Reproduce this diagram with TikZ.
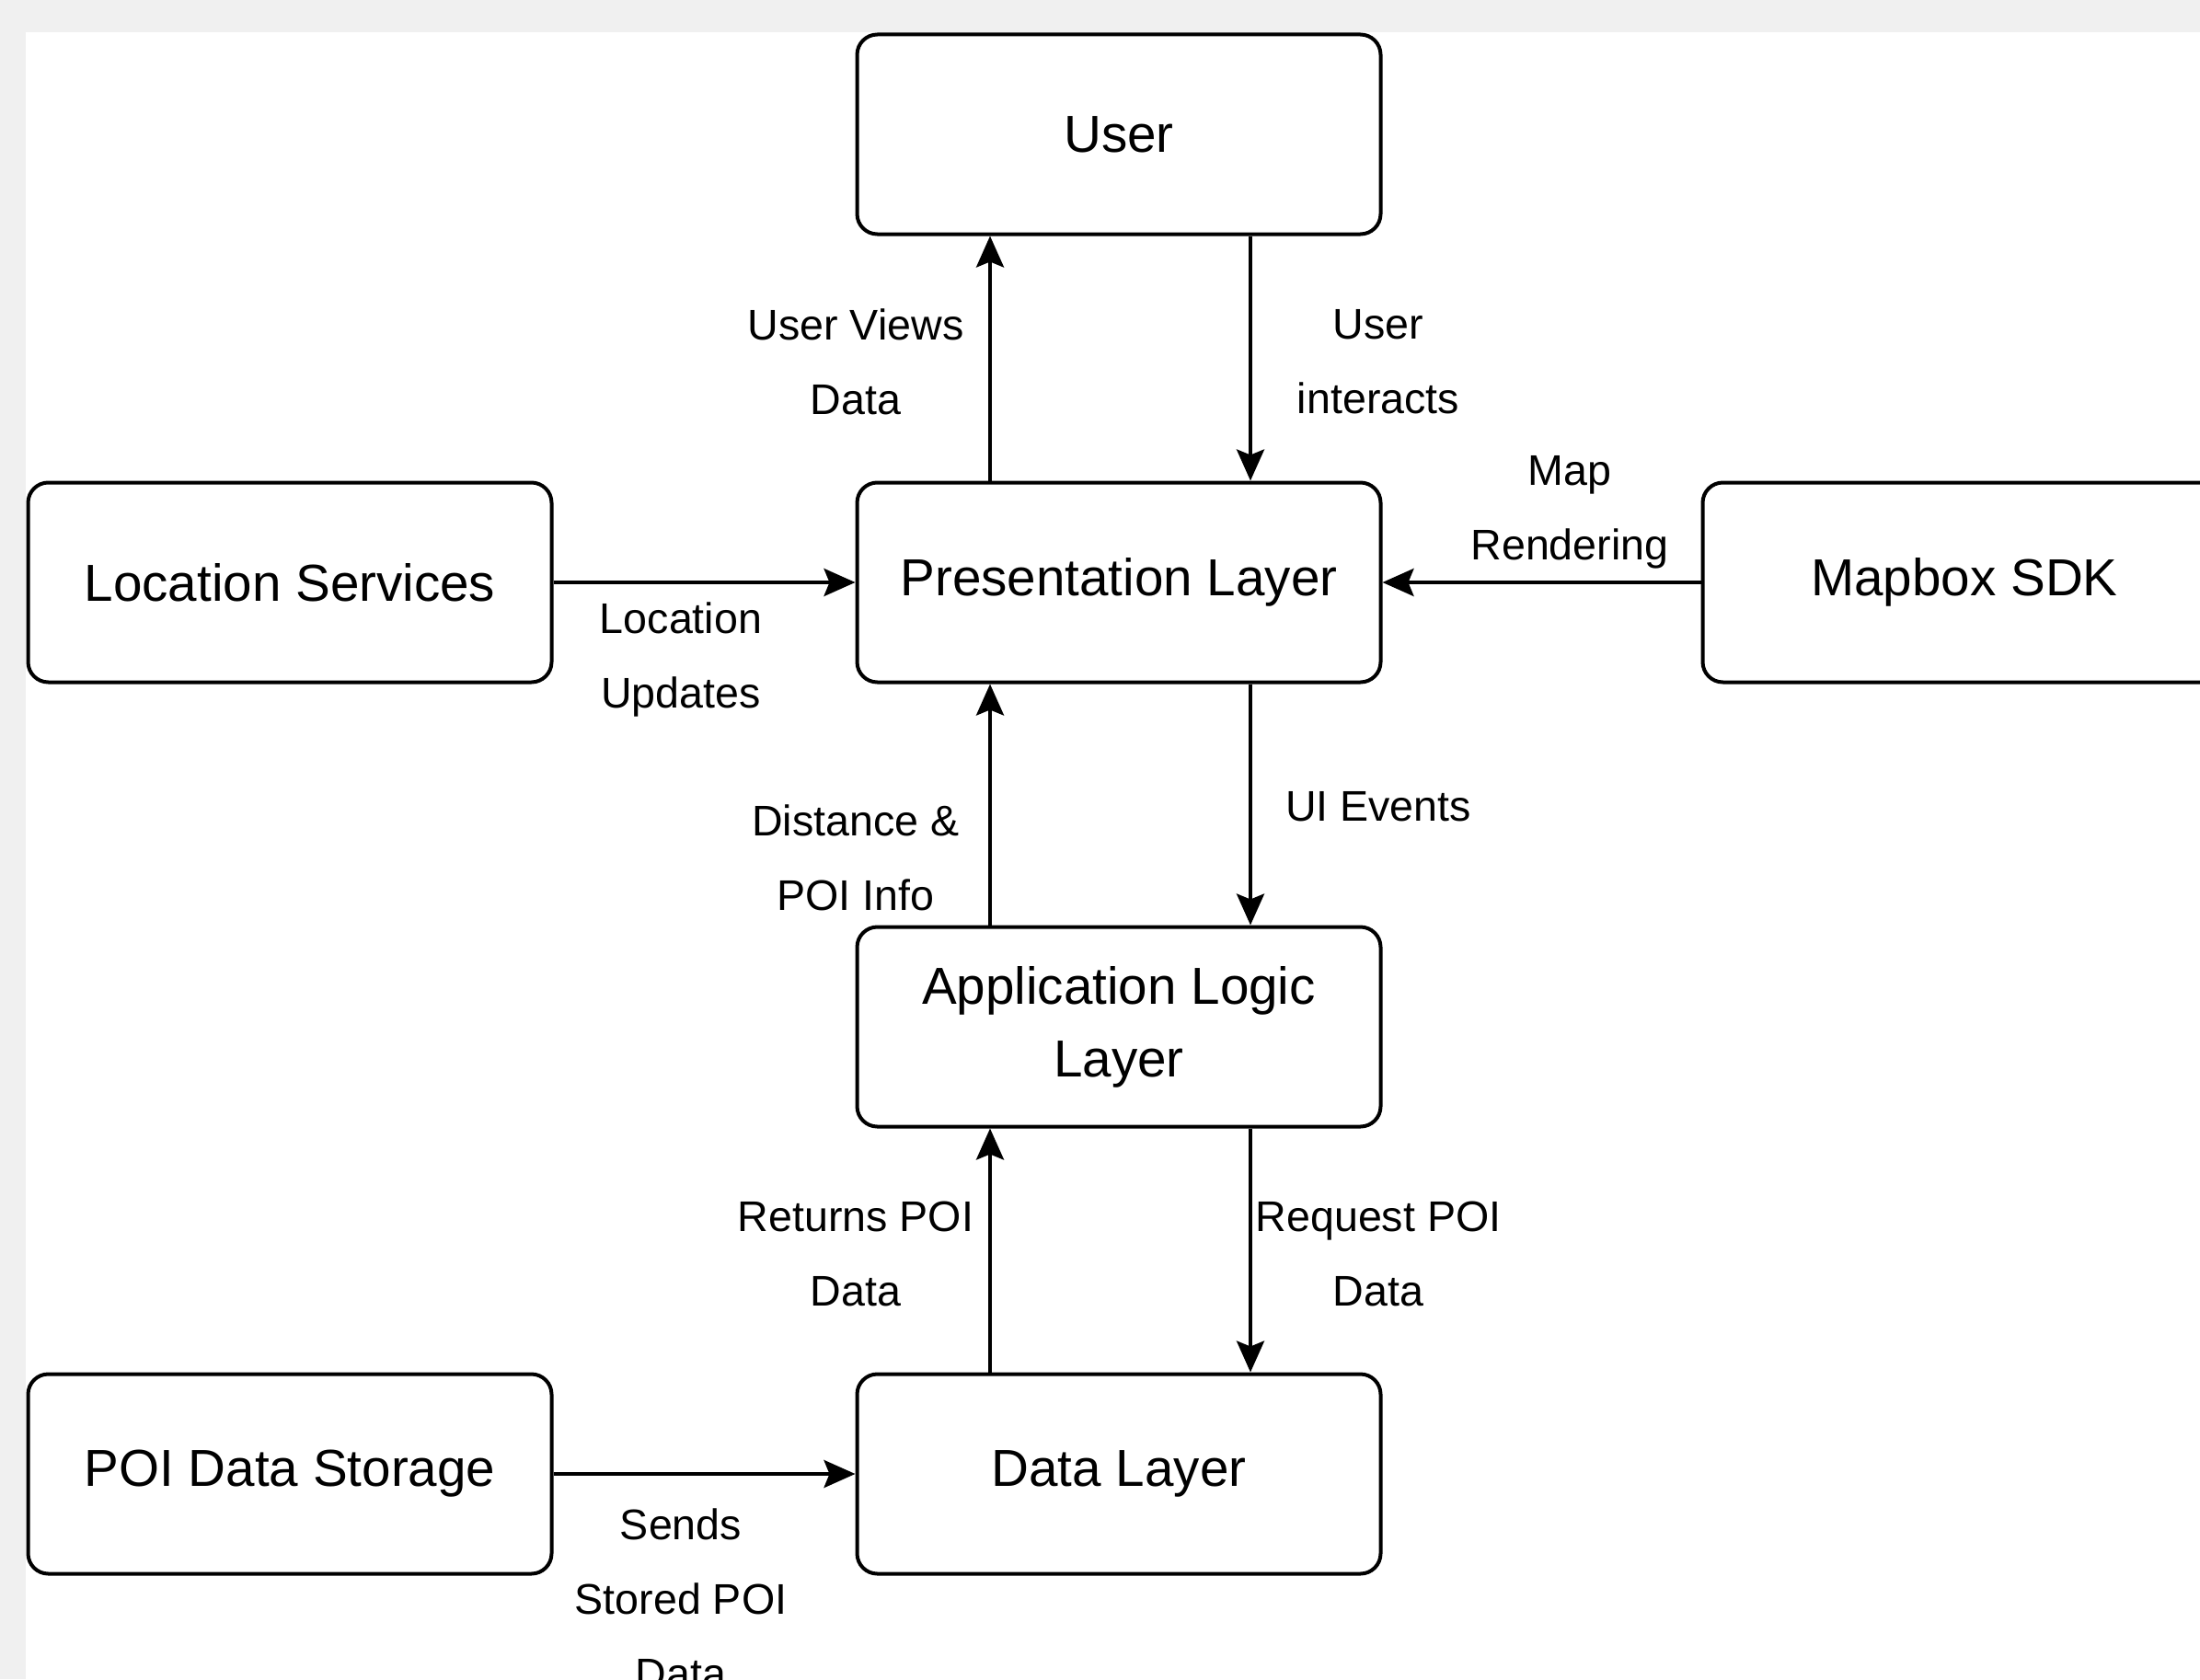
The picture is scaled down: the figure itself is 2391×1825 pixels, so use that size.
\documentclass[tikz,border=0pt]{standalone}
\usepackage{fontspec}
\setmainfont{Liberation Sans}
\usetikzlibrary{arrows.meta}
\definecolor{bggray}{RGB}{240,240,240}
\tikzset{
  box/.style={draw, line width=2pt, rounded corners=11pt, fill=white,
    minimum width=284.5pt, minimum height=108.5pt, align=center,
    font=\fontsize{28.3}{39.5}\selectfont, inner sep=0pt},
  arr/.style={line width=2pt, -{Stealth[length=17pt,width=15pt,inset=3pt]}},
  lbl/.style={align=center, font=\fontsize{23.3}{40.5}\selectfont, inner sep=0pt}
}
\begin{document}
\begin{tikzpicture}[x=0.5pt,y=-0.5pt]
\useasboundingbox (0,0) rectangle (2391,1825);
\clip (0,0) rectangle (2391,1825);
\fill[bggray] (0,0) rectangle (2391,1825);
\fill[white] (28,35) rectangle (2391,1825);
% boxes
\node[box] (user) at (1216,146) {User};
\node[box] (pres) at (1216,633) {Presentation Layer};
\node[box] (loc) at (315,633) {Location Services};
\node[box] (map) at (2135,633) {Mapbox SDK};
\node[box] (app) at (1216,1116) {Application Logic\\Layer};
\node[box] (data) at (1216,1602) {Data Layer};
\node[box] (poi) at (315,1602) {POI Data Storage};
% connectors
\draw[arr] ([xshift=-70pt]pres.north) -- ([xshift=-70pt]user.south);
\draw[arr] ([xshift=71.5pt]user.south) -- ([xshift=71.5pt]pres.north);
\draw[arr] (loc.east) -- (pres.west);
\draw[arr] (map.west) -- (pres.east);
\draw[arr] ([xshift=71.5pt]pres.south) -- ([xshift=71.5pt]app.north);
\draw[arr] ([xshift=-70pt]app.north) -- ([xshift=-70pt]pres.south);
\draw[arr] ([xshift=71.5pt]app.south) -- ([xshift=71.5pt]data.north);
\draw[arr] ([xshift=-70pt]data.north) -- ([xshift=-70pt]app.south);
\draw[arr] (poi.east) -- (data.west);
% labels
\node[lbl] (l1) at (930,393) {User Views\\Data};
\node[lbl] (l2) at (1498,393) {User\\interacts};
\node[lbl] (l3) at (1706,557) {Map\\Rendering};
\node[lbl] (l4) at (740,717) {Location\\Updates};
\node[lbl] (l5) at (930,932) {Distance \&\\POI Info};
\node[lbl] (l6) at (1498,877) {UI Events};
\node[lbl] (l7) at (930,1363) {Returns POI\\Data};
\node[lbl] (l8) at (1498,1363) {Request POI\\Data};
\node[lbl] (l9) at (740,1738) {Sends\\Stored POI\\Data};
\end{tikzpicture}
\end{document}
